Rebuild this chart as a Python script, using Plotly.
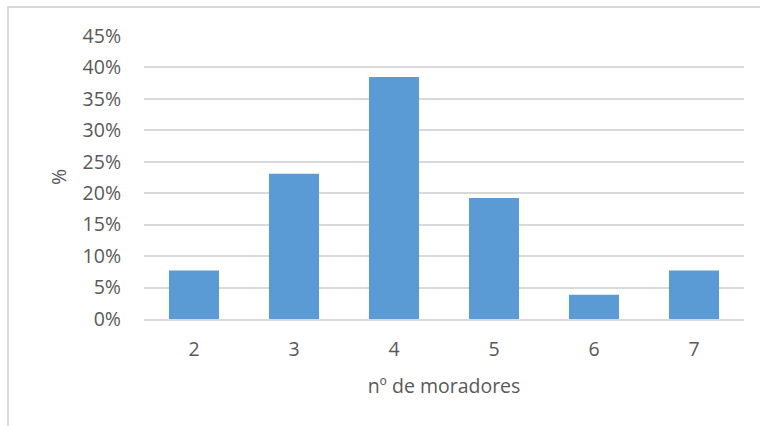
import plotly.graph_objects as go

# Share of households by number of residents
moradores = ["2", "3", "4", "5", "6", "7"]
residencias = [2, 6, 10, 5, 1, 2]
total = sum(residencias)
percentual = [n / total for n in residencias]

y_ticks = [0, 0.05, 0.10, 0.15, 0.20, 0.25, 0.30, 0.35, 0.40, 0.45]
y_labels = ["0%", "5%", "10%", "15%", "20%", "25%", "30%", "35%", "40%", "45%"]

FONT = "Open Sans, DejaVu Sans, sans-serif"
GREY_TEXT = "#595959"
GRID = "#d9d9d9"
FS = 19.5

fig = go.Figure(
    go.Bar(
        x=moradores,
        y=percentual,
        marker=dict(color="#5a9bd5", line=dict(width=0)),
        width=0.5,
    )
)

fig.update_layout(
    width=760,
    height=426,
    margin=dict(l=144, r=16, t=36, b=107),
    paper_bgcolor="white",
    plot_bgcolor="white",
    showlegend=False,
    font=dict(family=FONT, size=FS, color=GREY_TEXT),
    xaxis=dict(
        type="category",
        showgrid=False,
        showline=True,
        linecolor=GRID,
        linewidth=1.5,
        ticks="",
        ticklabelstandoff=12,
        tickfont=dict(size=FS, color=GREY_TEXT),
        title=dict(text="nº de moradores", standoff=18,
                   font=dict(size=FS, color=GREY_TEXT)),
    ),
    yaxis=dict(
        range=[0, 0.45],
        tickvals=y_ticks,
        ticktext=y_labels,
        showgrid=True,
        gridcolor=GRID,
        gridwidth=1.5,
        zeroline=False,
        showline=False,
        ticks="",
        ticklabelstandoff=22,
        tickfont=dict(size=FS, color=GREY_TEXT),
    ),
    shapes=[
        dict(
            type="rect", xref="paper", yref="paper",
            x0=(8 - 144) / 600, x1=(780 - 144) / 600,
            y0=-(440 - 319) / 283, y1=(319 - 7) / 283,
            line=dict(color=GRID, width=2),
            fillcolor="rgba(0,0,0,0)",
            layer="below",
        )
    ],
    annotations=[
        dict(
            text="%", xref="paper", yref="paper",
            x=(58 - 144) / 600, y=(319 - 177) / 283,
            xanchor="center", yanchor="middle",
            showarrow=False, textangle=-90,
            font=dict(size=FS, color=GREY_TEXT),
        )
    ],
)

fig.write_html("out.html")
